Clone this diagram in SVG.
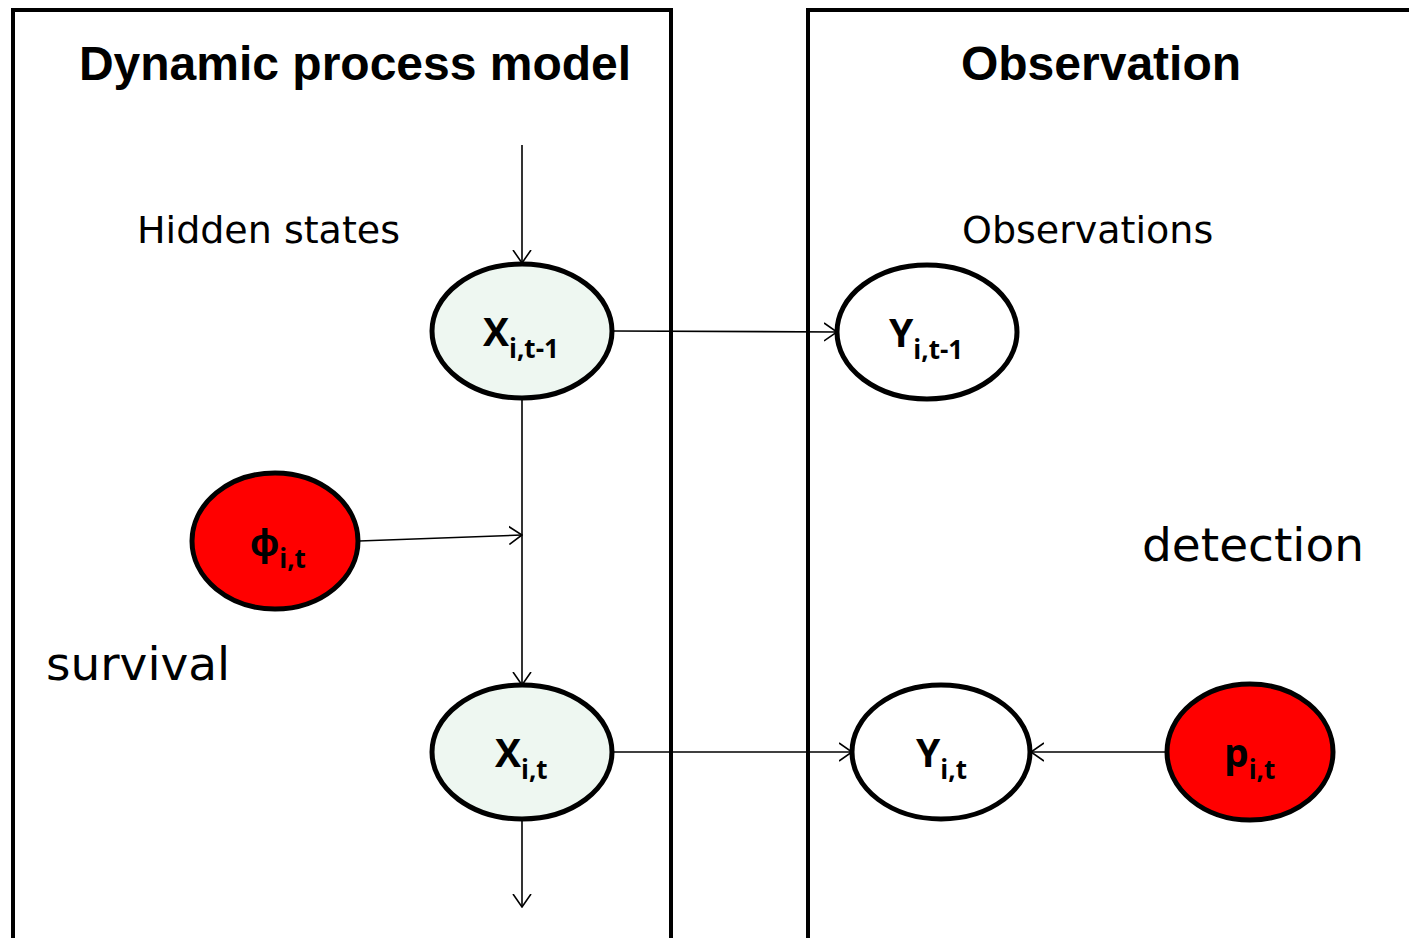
<svg xmlns="http://www.w3.org/2000/svg" width="1409" height="938" viewBox="0 0 1409 938">
  <style>
    .panel { fill: #ffffff; stroke: #000000; stroke-width: 4; }
    .title { font-family: "Liberation Sans", Arial, sans-serif; font-weight: bold; font-size: 48px; fill: #000; }
    .label { font-family: "DejaVu Sans", Verdana, sans-serif; font-size: 38px; fill: #000; }
    .big { font-family: "DejaVu Sans", Verdana, sans-serif; font-size: 47px; fill: #000; }
    .node { stroke: #000000; stroke-width: 5; }
    .hidden { fill: #eef7f1; }
    .obs { fill: #ffffff; }
    .param { fill: #ff0000; }
    .nt { font-family: "Open Sans", "Liberation Sans", sans-serif; font-weight: bold; font-size: 39px; fill: #000; }
    .sub { font-size: 26px; }
    .edge { stroke: #000000; stroke-width: 1.6; fill: none; marker-end: url(#open); }
  </style>
  <defs>
    <marker id="open" viewBox="0 0 14 20" refX="13" refY="10" markerWidth="14" markerHeight="20" markerUnits="userSpaceOnUse" orient="auto">
      <path d="M0,1 L13,10 L0,19" fill="none" stroke="#000" stroke-width="1.6"/>
    </marker>
  </defs>

  <rect width="1409" height="938" fill="#ffffff"/>

  <!-- panels -->
  <g id="panel-process">
    <rect class="panel" x="13" y="10" width="658" height="940"/>
    <text class="title" x="355" y="80" text-anchor="middle">Dynamic process model</text>
    <text class="label" x="137" y="243">Hidden states</text>
    <text class="big" x="46" y="680">survival</text>
  </g>
  <g id="panel-observation">
    <rect class="panel" x="808" y="10" width="620" height="940"/>
    <text class="title" x="1101" y="80" text-anchor="middle">Observation</text>
    <text class="label" x="962" y="243">Observations</text>
    <text class="big" x="1142" y="561">detection</text>
  </g>

  <!-- connectors -->
  <g id="connectors">
    <line class="edge" x1="522" y1="145" x2="522" y2="263"/>
    <line class="edge" x1="613" y1="331" x2="837" y2="332"/>
    <line class="edge" x1="522" y1="398" x2="522" y2="685"/>
    <line class="edge" x1="359" y1="541" x2="522" y2="535"/>
    <line class="edge" x1="522" y1="820" x2="522" y2="907"/>
    <line class="edge" x1="613" y1="752" x2="852" y2="752"/>
    <line class="edge" x1="1166" y1="752" x2="1031" y2="752"/>
  </g>

  <!-- nodes -->
  <g id="node-x-prev">
    <ellipse class="node hidden" cx="522" cy="331" rx="90" ry="67"/>
    <text class="nt" x="483" y="346">X<tspan class="sub" dy="12">i,t-1</tspan></text>
  </g>
  <g id="node-y-prev">
    <ellipse class="node obs" cx="927" cy="332" rx="90" ry="67"/>
    <text class="nt" x="889" y="347">Y<tspan class="sub" dy="12">i,t-1</tspan></text>
  </g>
  <g id="node-phi">
    <ellipse class="node param" cx="275" cy="541" rx="83" ry="68"/>
    <text class="nt" x="250" y="556">ϕ<tspan class="sub" dy="12">i,t</tspan></text>
  </g>
  <g id="node-x">
    <ellipse class="node hidden" cx="522" cy="752" rx="90" ry="67"/>
    <text class="nt" x="495" y="767">X<tspan class="sub" dy="12">i,t</tspan></text>
  </g>
  <g id="node-y">
    <ellipse class="node obs" cx="941" cy="752" rx="89" ry="67"/>
    <text class="nt" x="916" y="767">Y<tspan class="sub" dy="12">i,t</tspan></text>
  </g>
  <g id="node-p">
    <ellipse class="node param" cx="1250" cy="752" rx="83" ry="68"/>
    <text class="nt" x="1224" y="767">p<tspan class="sub" dy="12">i,t</tspan></text>
  </g>
</svg>
